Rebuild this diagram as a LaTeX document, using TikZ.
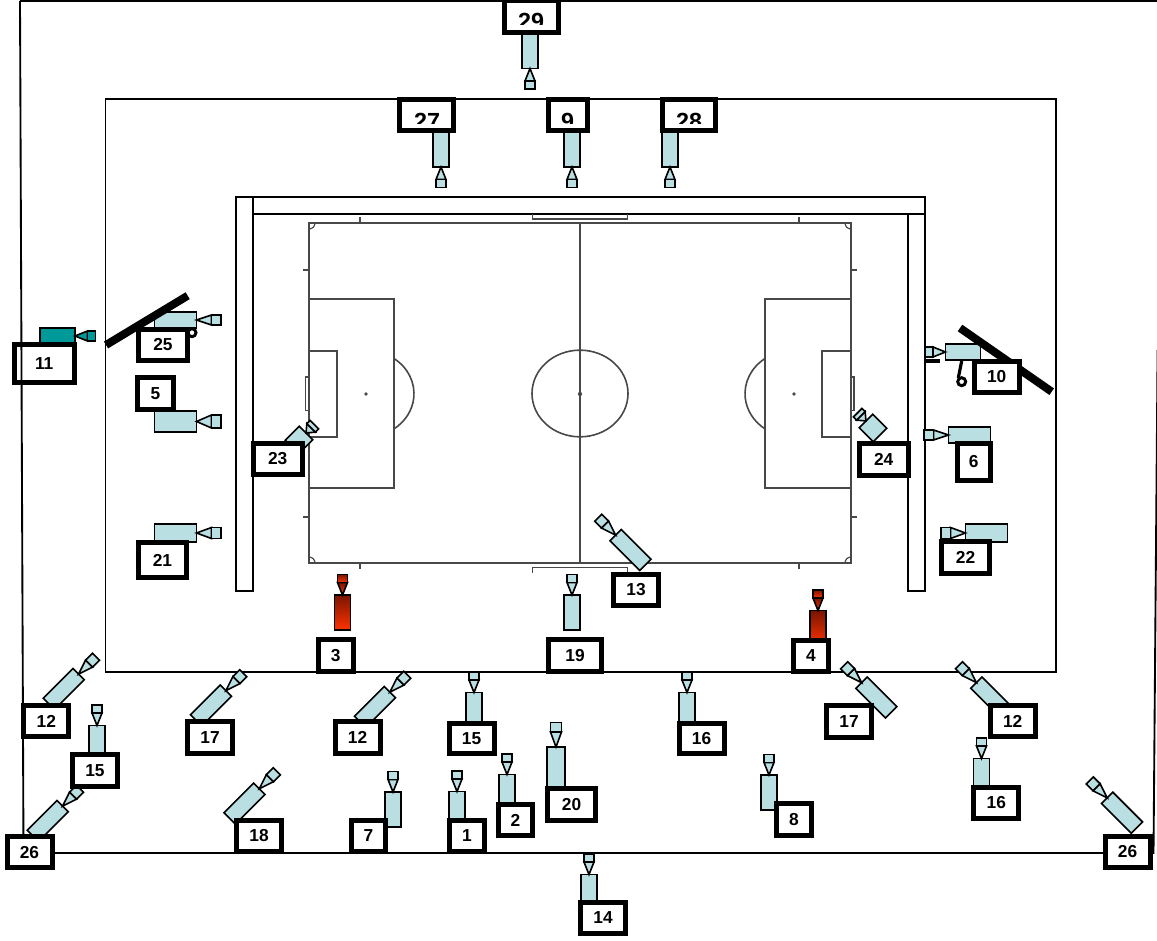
\documentclass[tikz,border=0pt]{standalone}
\usepackage{fontspec}
\setmainfont{Liberation Sans}
\usepackage{tikz}
\definecolor{camblue}{HTML}{B9DFE3}
\definecolor{camteal}{HTML}{009999}
\definecolor{camdark}{HTML}{7A1500}
\definecolor{camhot}{HTML}{FF3300}
\definecolor{pitchgray}{HTML}{484848}
\tikzstyle{labelbox} = [rectangle, draw=black, fill=white, line width=3.75pt, minimum width=33.75pt, minimum height=23.6pt, inner sep=0pt, text=black, font=\fontsize{13}{13}\selectfont\bfseries]
\tikzstyle{labw} = [minimum width=#1*0.75pt]
\tikzstyle{labh} = [minimum height=#1*0.75pt]
\tikzstyle{cuttext} = [inner sep=0pt, text=black, font=\fontsize{17.5}{17.5}\selectfont\bfseries]
\tikzstyle{wall} = [draw=black, fill=white, line width=1.4pt]
\tikzstyle{stand} = [draw=black, line width=1.4pt]
\tikzstyle{pitch} = [draw=pitchgray, line width=1.2pt]
\tikzstyle{pitchmark} = [draw=pitchgray, line width=.9pt]
\tikzstyle{rail} = [draw=black, line width=6pt]
\tikzstyle{bluecam} = [fill=camblue]
\tikzstyle{tealcam} = [fill=camteal]
\tikzstyle{redcam} = [top color=camdark, bottom color=camhot]
\tikzset{
    pics/cam/.style={code={
        \draw [line width=1.2pt, #1] (-8,-17.5) rectangle (8,17.5);
        \draw [line width=1.2pt, #1] (0,-17.5) -- (-5,-30) -- (5,-30) -- cycle;
        \draw [line width=1.2pt, #1] (-5,-30) rectangle (5,-38);
    }},
    pics/cam/.default=bluecam
}

\begin{document}
\begin{tikzpicture}[x=0.75pt,y=-0.75pt]
    \useasboundingbox (0,0) rectangle (1157,941);

    % outer border and stand
    \draw [stand] (20,1) -- (1157,1);
    \draw [stand] (20,1) -- (23.5,853) -- (1153.5,853) -- (1157.6,350);
    \draw [stand] (105.5,99) rectangle (1056,672);

    % walls round the pitch
    \draw [wall] (236,197) rectangle (925,214);
    \draw [wall] (236,197) rectangle (253,591);
    \draw [wall] (908,214) rectangle (925,591);

    % pitch
    \draw [pitch] (309,223) rectangle (851,563);
    \draw [pitch] (580,223) -- (580,563);
    \draw [pitch] (580,393.5) ellipse [x radius=36pt, y radius=32.5pt];
    \draw [pitch] (309,299) rectangle (394,488);
    \draw [pitch] (309,351) rectangle (337,437);
    \draw [pitch] (765,299) rectangle (851,488);
    \draw [pitch] (822,351) rectangle (851,437);
    \draw [pitch] (394,358.5) arc [start angle=54.3, end angle=-54.3, x radius=36pt, y radius=32.5pt];
    \draw [pitch] (765,358.5) arc [start angle=125.7, end angle=234.3, x radius=36pt, y radius=32.5pt];
    \fill [pitchgray] (366,394) circle [radius=1.4pt];
    \fill [pitchgray] (580,394) circle [radius=1.6pt];
    \fill [pitchgray] (794,394) circle [radius=1.4pt];
    \draw [pitchmark] (305.5,377) rectangle (309,410.5);
    \draw [pitchmark] (851,377) rectangle (854,410.5);
    \draw [pitchmark] (532.5,214) -- (532.5,219) -- (627.5,219) -- (627.5,214);
    \draw [pitchmark] (532.5,573) -- (532.5,567.5) -- (627.5,567.5) -- (627.5,573);
    \draw [pitchmark] (360,217) -- (360,223);
    \draw [pitchmark] (799,217) -- (799,223);
    \draw [pitchmark] (360,563) -- (360,569);
    \draw [pitchmark] (799,563) -- (799,569);
    \draw [pitchmark] (303,270) -- (309,270);
    \draw [pitchmark] (303,517) -- (309,517);
    \draw [pitchmark] (851,270) -- (857,270);
    \draw [pitchmark] (851,517) -- (857,517);
    \draw [pitchmark] (315,223) arc [start angle=0, end angle=-90, radius=4.5pt];
    \draw [pitchmark] (845,223) arc [start angle=180, end angle=270, radius=4.5pt];
    \draw [pitchmark] (315,563) arc [start angle=0, end angle=90, radius=4.5pt];
    \draw [pitchmark] (845,563) arc [start angle=180, end angle=90, radius=4.5pt];

    % cameras pointing up
    \pic (cam3) at (342.5,612.5) {cam=redcam};
    \pic (cam4) at (818,628) {cam=redcam};
    \pic (cam19) at (572,612.5) {cam};
    \pic (cam15a) at (474,710) {cam};
    \pic (cam16a) at (687,710) {cam};
    \pic (cam15b) at (97,743) {cam};
    \pic (cam16b) at (981.5,776) {cam};
    \pic (cam14) at (589,892) {cam};
    \pic (cam1) at (457,809) {cam};
    \pic (cam2) at (507,792) {cam};
    \pic (cam7) at (393,809.5) {cam};
    \pic (cam8) at (769,792.5) {cam};
    \pic (cam20) [xscale=1.1,yscale=1.2] at (556,768) {cam};

    % cameras pointing down
    \pic (cam29) [rotate=180] at (530,51) {cam};
    \pic (cam27) [rotate=180] at (441,149.5) {cam};
    \pic (cam9) [rotate=180] at (572,149.5) {cam};
    \pic (cam28) [rotate=180] at (670,149.5) {cam};

    % cameras pointing sideways
    \pic (cam11) [rotate=-90] at (57.5,336) {cam=tealcam};
    \pic (cam25) [rotate=-90,yscale=1.2] at (175.5,320) {cam};
    \pic (cam5) [rotate=-90,xscale=1.3,yscale=1.2] at (175.5,421.5) {cam};
    \pic (cam21) [rotate=-90,xscale=1.1,yscale=1.2] at (175.5,533) {cam};
    \pic (cam10) [rotate=90] at (963,352) {cam};
    \pic (cam6) [rotate=90,yscale=1.2] at (969.5,435) {cam};
    \pic (cam22) [rotate=90,xscale=1.1,yscale=1.2] at (986.5,533) {cam};

    % cameras on the diagonals
    \pic (cam12a) [rotate=-45,yscale=1.2] at (63.7,689) {cam};
    \pic (cam17a) [rotate=-45,yscale=1.2] at (211,705.5) {cam};
    \pic (cam12b) [rotate=-45,yscale=1.2] at (375,707) {cam};
    \pic (cam26a) [rotate=-45,yscale=1.2] at (47.7,821) {cam};
    \pic (cam18) [rotate=-45,yscale=1.2] at (244.5,803.6) {cam};
    \pic (cam13) [rotate=45,yscale=1.2] at (630.5,550) {cam};
    \pic (cam17b) [rotate=45,yscale=1.2] at (876.4,697.5) {cam};
    \pic (cam12c) [rotate=45,yscale=1.2] at (991.2,697.5) {cam};
    \pic (cam26b) [rotate=45,yscale=1.2] at (1122,812.7) {cam};
    \pic (cam23) [rotate=-45,xscale=1.2,yscale=.57] at (299,440) {cam};
    \pic (cam24) [rotate=45,xscale=1.2,yscale=.57] at (873,428) {cam};

    % camera rails and stands
    \draw [rail] (106,345) -- (187.7,295.7);
    \draw [rail] (960,328) -- (1051.7,391.7);
    \draw [line width=3pt] (925,361) -- (940,361);
    \draw [line width=2.4pt] (961.7,361) -- (958.3,378);
    \draw [line width=2.2pt, fill=white] (961.7,381.7) circle [radius=3pt];
    \draw [line width=2.2pt, fill=white] (192,332.7) circle [radius=3pt];

    % labels
    \node (l11) [labelbox, fill=none, labw=60, labh=38] at (44.2,363.7) {11};
    \node (l25) [labelbox, labw=49] at (163,345) {25};
    \node (l5) [labelbox, labw=35.5] at (155.5,393.3) {5};
    \node (l23) [labelbox, labw=49] at (277.7,459) {23};
    \node (l24) [labelbox, labw=49] at (883.7,459.3) {24};
    \node (l10) [labelbox] at (996.7,377) {10};
    \node (l6) [labelbox, labw=32.5, labh=37] at (973.8,462) {6};
    \node (l3) [labelbox, labw=35] at (335.7,655.7) {3};
    \node (l19) [labelbox, labw=53.6] at (575,655.7) {19};
    \node (l13) [labelbox] at (636,590) {13};
    \node (l4) [labelbox, labw=35] at (811,655.8) {4};
    \node (l17b) [labelbox] at (849,721.3) {17};
    \node (l12c) [labelbox] at (1012.7,721) {12};
    \node (l16b) [labelbox] at (996.3,803) {16};
    \node (l26b) [labelbox] at (1127.5,852) {26};
    \node (l8) [labelbox, labw=35] at (794,819.3) {8};
    \node (l12a) [labelbox] at (46.3,721) {12};
    \node (l15b) [labelbox] at (95,770.3) {15};
    \node (l26a) [labelbox] at (29.5,852.2) {26};
    \node (l17a) [labelbox] at (210,737.6) {17};
    \node (l18) [labelbox] at (259,835.8) {18};
    \node (l12b) [labelbox] at (357.5,737.5) {12};
    \node (l15a) [labelbox, labh=30] at (471.5,738.5) {15};
    \node (l16a) [labelbox, labh=30] at (701.5,738.5) {16};
    \node (l7) [labelbox, labw=34] at (368.5,836) {7};
    \node (l1) [labelbox, labw=35] at (467,836) {1};
    \node (l2) [labelbox, labw=34] at (515.5,820) {2};
    \node (l20) [labelbox, labw=48] at (571.5,804.5) {20};
    \node (l14) [labelbox] at (603,918) {14};
    \node (l21) [labelbox, labw=48, labh=35] at (162.5,560) {21};
    \node (l22) [labelbox, labw=48] at (965.5,557.5) {22};

    % these four have their digits cut off
    \node (l29) [labelbox, labw=53.5, labh=32.5] at (531.3,16.5) {};
    \node (l27) [labelbox, labw=53.5] at (426.5,115) {};
    \node (l9) [labelbox, labw=39] at (567.7,115) {};
    \node (l28) [labelbox, labw=53] at (689,115) {};
    \begin{scope}
        \clip (490,0) rectangle (570,25) (390,97) rectangle (725,123.5);
        \node (t29) [cuttext] at (531,21.7) {29};
        \node (t27) [cuttext] at (427,121.7) {27};
        \node (t9) [cuttext] at (567.7,121.7) {9};
        \node (t28) [cuttext] at (689,121.7) {28};
    \end{scope}
\end{tikzpicture}
\end{document}
